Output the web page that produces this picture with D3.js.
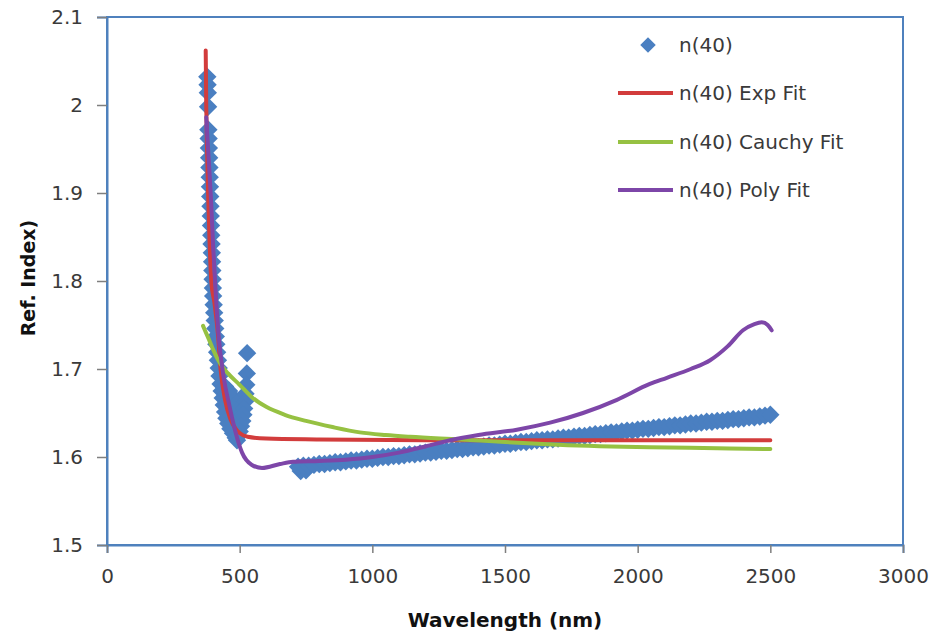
<!DOCTYPE html>
<html><head><meta charset="utf-8">
<script src="https://cdn.jsdelivr.net/npm/d3@7"></script>
<style>body{margin:0;background:#fff}</style>
</head><body>
<svg id="chart" width="937" height="636"></svg>
<script>
// ---- tick labels ----
const xTicks = [0, 500, 1000, 1500, 2000, 2500, 3000];
const yTicks = [1.5, 1.6, 1.7, 1.8, 1.9, 2.0, 2.1];
const yTickLabels = ["1.5", "1.6", "1.7", "1.8", "1.9", "2", "2.1"];
const seriesNames = ["n(40)", "n(40) Exp Fit", "n(40) Cauchy Fit", "n(40) Poly Fit"];

// ---- measured n(40) points: wavelength (nm) and refractive index ----
const dataWl = [
  378,379,380,381,382,383,384,385,386,387,388,389,390,391,392,393,394,395,396,397,398,399,400,
  402,404,406,408,410,412,415,418,421,424,428,432,436,440,445,450,457,465,475,485,490,
  450,465,480,495,505,470,485,500,
  445,460,475,490,500,490,475,
  528,527,525,522,520,517,514,510,505,500,495,
  730,750,
  720,740,760,780,800,820,840,860,880,900,920,940,960,980,1000,1020,1040,1060,1080,1100,
  1120,1140,1160,1180,1200,1220,1240,1260,1280,1300,1320,1340,1360,1380,1400,1420,1440,1460,1480,1500,
  1520,1540,1560,1580,1600,1620,1640,1660,1680,1700,1720,1740,1760,1780,1800,1820,1840,1860,1880,1900,
  1920,1940,1960,1980,2000,2020,2040,2060,2080,2100,2120,2140,2160,2180,2200,2220,2240,2260,2280,2300,
  2320,2340,2360,2380,2400,2420,2440,2460,2480,2500
];
const dataN = [
  2.032,2.023,2.014,1.998,1.972,1.962,1.951,1.940,1.929,1.918,1.907,1.896,1.885,1.874,1.863,1.852,1.842,1.832,1.822,1.812,1.802,1.792,1.783,
  1.773,1.764,1.755,1.746,1.737,1.728,1.719,1.710,1.701,1.692,1.683,1.675,1.667,1.659,1.651,1.644,1.638,1.632,1.627,1.622,1.619,
  1.672,1.664,1.657,1.650,1.660,1.648,1.640,1.636,
  1.680,1.675,1.668,1.662,1.655,1.645,1.640,
  1.718,1.695,1.682,1.672,1.663,1.655,1.648,1.641,1.635,1.629,1.624,
  1.584,1.585,
  1.589,1.590,1.590,1.591,1.592,1.592,1.593,1.594,1.594,1.595,1.596,1.596,1.597,1.598,1.598,1.599,1.600,1.600,1.601,1.601,
  1.602,1.603,1.603,1.604,1.605,1.605,1.606,1.607,1.607,1.608,1.609,1.609,1.610,1.611,1.611,1.612,1.613,1.613,1.614,1.615,
  1.615,1.616,1.617,1.617,1.618,1.619,1.619,1.620,1.620,1.621,1.622,1.622,1.623,1.624,1.624,1.625,1.626,1.626,1.627,1.628,
  1.628,1.629,1.630,1.630,1.631,1.632,1.632,1.633,1.634,1.634,1.635,1.636,1.636,1.637,1.638,1.638,1.639,1.640,1.640,1.641,
  1.641,1.642,1.643,1.643,1.644,1.645,1.645,1.646,1.647,1.648
];

// ---- fitted curves ----
const expWl = [372,374,377,381,386,393,405,418,428,445,465,485,501,530,600,800,1200,2500];
const expN  = [2.062,2.000,1.950,1.900,1.850,1.800,1.775,1.740,1.700,1.665,1.643,1.632,1.627,1.623,1.621,1.620,1.619,1.619];

const cauchyWl = [362,369,385,400,425,456,500,546,600,670,750,850,953,1050,1142,1330,1500,1700,2046,2300,2500];
const cauchyN  = [1.749,1.744,1.733,1.722,1.707,1.695,1.682,1.668,1.657,1.648,1.641,1.634,1.628,1.625,1.623,1.620,1.617,1.614,1.611,1.610,1.609];

const polyWl = [374,383,392,400,410,420,440,460,482,509,546,584,652,701,800,900,1000,1100,1200,1293,1400,1545,1670,1794,1922,2046,2110,2200,2273,2340,2397,2440,2468,2490,2505];
const polyN  = [1.986,1.940,1.892,1.840,1.785,1.740,1.690,1.660,1.631,1.605,1.591,1.5875,1.592,1.5945,1.5955,1.597,1.600,1.605,1.612,1.619,1.625,1.631,1.639,1.650,1.665,1.683,1.690,1.700,1.710,1.726,1.744,1.751,1.753,1.750,1.744];

// ---- styling ----
const colBlue = "#4a7fc1", colRed = "#d23c3c", colGreen = "#96c142", colPurple = "#7d46a8";
const frameCol = "#4f81bd";
const textCol = "#3a3a3a";

const svg = d3.select("#chart");
svg.append("rect").attr("width", 937).attr("height", 636).attr("fill", "#fff");

const L = 107, R = 903, T = 17, B = 545;
const x = d3.scaleLinear().domain([0, 3000]).range([L, R]);
const y = d3.scaleLinear().domain([1.5, 2.1]).range([B, T]);

// frame
svg.append("rect").attr("x", L).attr("y", T).attr("width", R - L).attr("height", B - T)
  .attr("fill", "none").attr("stroke", frameCol).attr("stroke-width", 2);

// left axis
const yAxis = d3.axisLeft(y).tickValues(yTicks).tickSize(10).tickPadding(14)
  .tickFormat((d, i) => yTickLabels[i]);
const gy = svg.append("g").attr("transform", `translate(${L},0)`).call(yAxis);
gy.select(".domain").attr("stroke", frameCol).attr("stroke-width", 2);
gy.selectAll(".tick line").attr("stroke", "#7f7f7f").attr("stroke-width", 1.5);
gy.selectAll(".tick text").attr("fill", textCol).style("font-family", "DejaVu Sans").style("font-size", "20px");

// bottom axis
const xAxis = d3.axisBottom(x).tickValues(xTicks).tickSize(8).tickPadding(16).tickFormat(d3.format("d"));
const gx = svg.append("g").attr("transform", `translate(0,${B})`).call(xAxis);
gx.select(".domain").attr("stroke", frameCol).attr("stroke-width", 2);
gx.selectAll(".tick line").attr("stroke", "#7f7f7f").attr("stroke-width", 1.5);
gx.selectAll(".tick text").attr("fill", textCol).style("font-family", "DejaVu Sans").style("font-size", "20px");

// titles
svg.append("text").attr("x", 505).attr("y", 627).attr("text-anchor", "middle")
  .attr("fill", "#111").style("font-family", "DejaVu Sans").style("font-weight", "bold").style("font-size", "20px")
  .text("Wavelength (nm)");
svg.append("text").attr("transform", "translate(35,278) rotate(-90)").attr("text-anchor", "middle")
  .attr("fill", "#111").style("font-family", "DejaVu Sans").style("font-weight", "bold").style("font-size", "19px")
  .text("Ref. Index)");

// markers
const diamond = d3.symbol().type(d3.symbolSquare).size(169);
const pts = dataWl.map((w, i) => ({w, n: dataN[i]}));
svg.append("g").selectAll("path").data(pts).join("path")
  .attr("d", diamond)
  .attr("transform", d => `translate(${x(d.w)},${y(d.n)}) rotate(45)`)
  .attr("fill", colBlue);

// lines
const line = d3.line().x(d => x(d[0])).y(d => y(d[1])).curve(d3.curveMonotoneX);
function drawLine(wl, nv, col) {
  svg.append("path").datum(wl.map((w, i) => [w, nv[i]]))
    .attr("d", line).attr("fill", "none").attr("stroke", col)
    .attr("stroke-width", 4).attr("stroke-linejoin", "round").attr("stroke-linecap", "round");
}
drawLine(expWl, expN, colRed);
drawLine(cauchyWl, cauchyN, colGreen);
drawLine(polyWl, polyN, colPurple);

// legend
const lg = svg.append("g");
const rows = [45, 93, 142, 190];
const legCols = [colBlue, colRed, colGreen, colPurple];
seriesNames.forEach((name, i) => {
  if (i === 0) {
    lg.append("path").attr("d", d3.symbol().type(d3.symbolSquare).size(120))
      .attr("transform", `translate(648,${rows[i]}) rotate(45)`).attr("fill", colBlue);
  } else {
    lg.append("line").attr("x1", 618).attr("x2", 673).attr("y1", rows[i]).attr("y2", rows[i])
      .attr("stroke", legCols[i]).attr("stroke-width", 4);
  }
  lg.append("text").attr("x", 679).attr("y", rows[i]).attr("dy", "0.36em")
    .attr("fill", textCol).style("font-family", "DejaVu Sans").style("font-size", "20px")
    .text(name);
});
</script>
</body></html>
